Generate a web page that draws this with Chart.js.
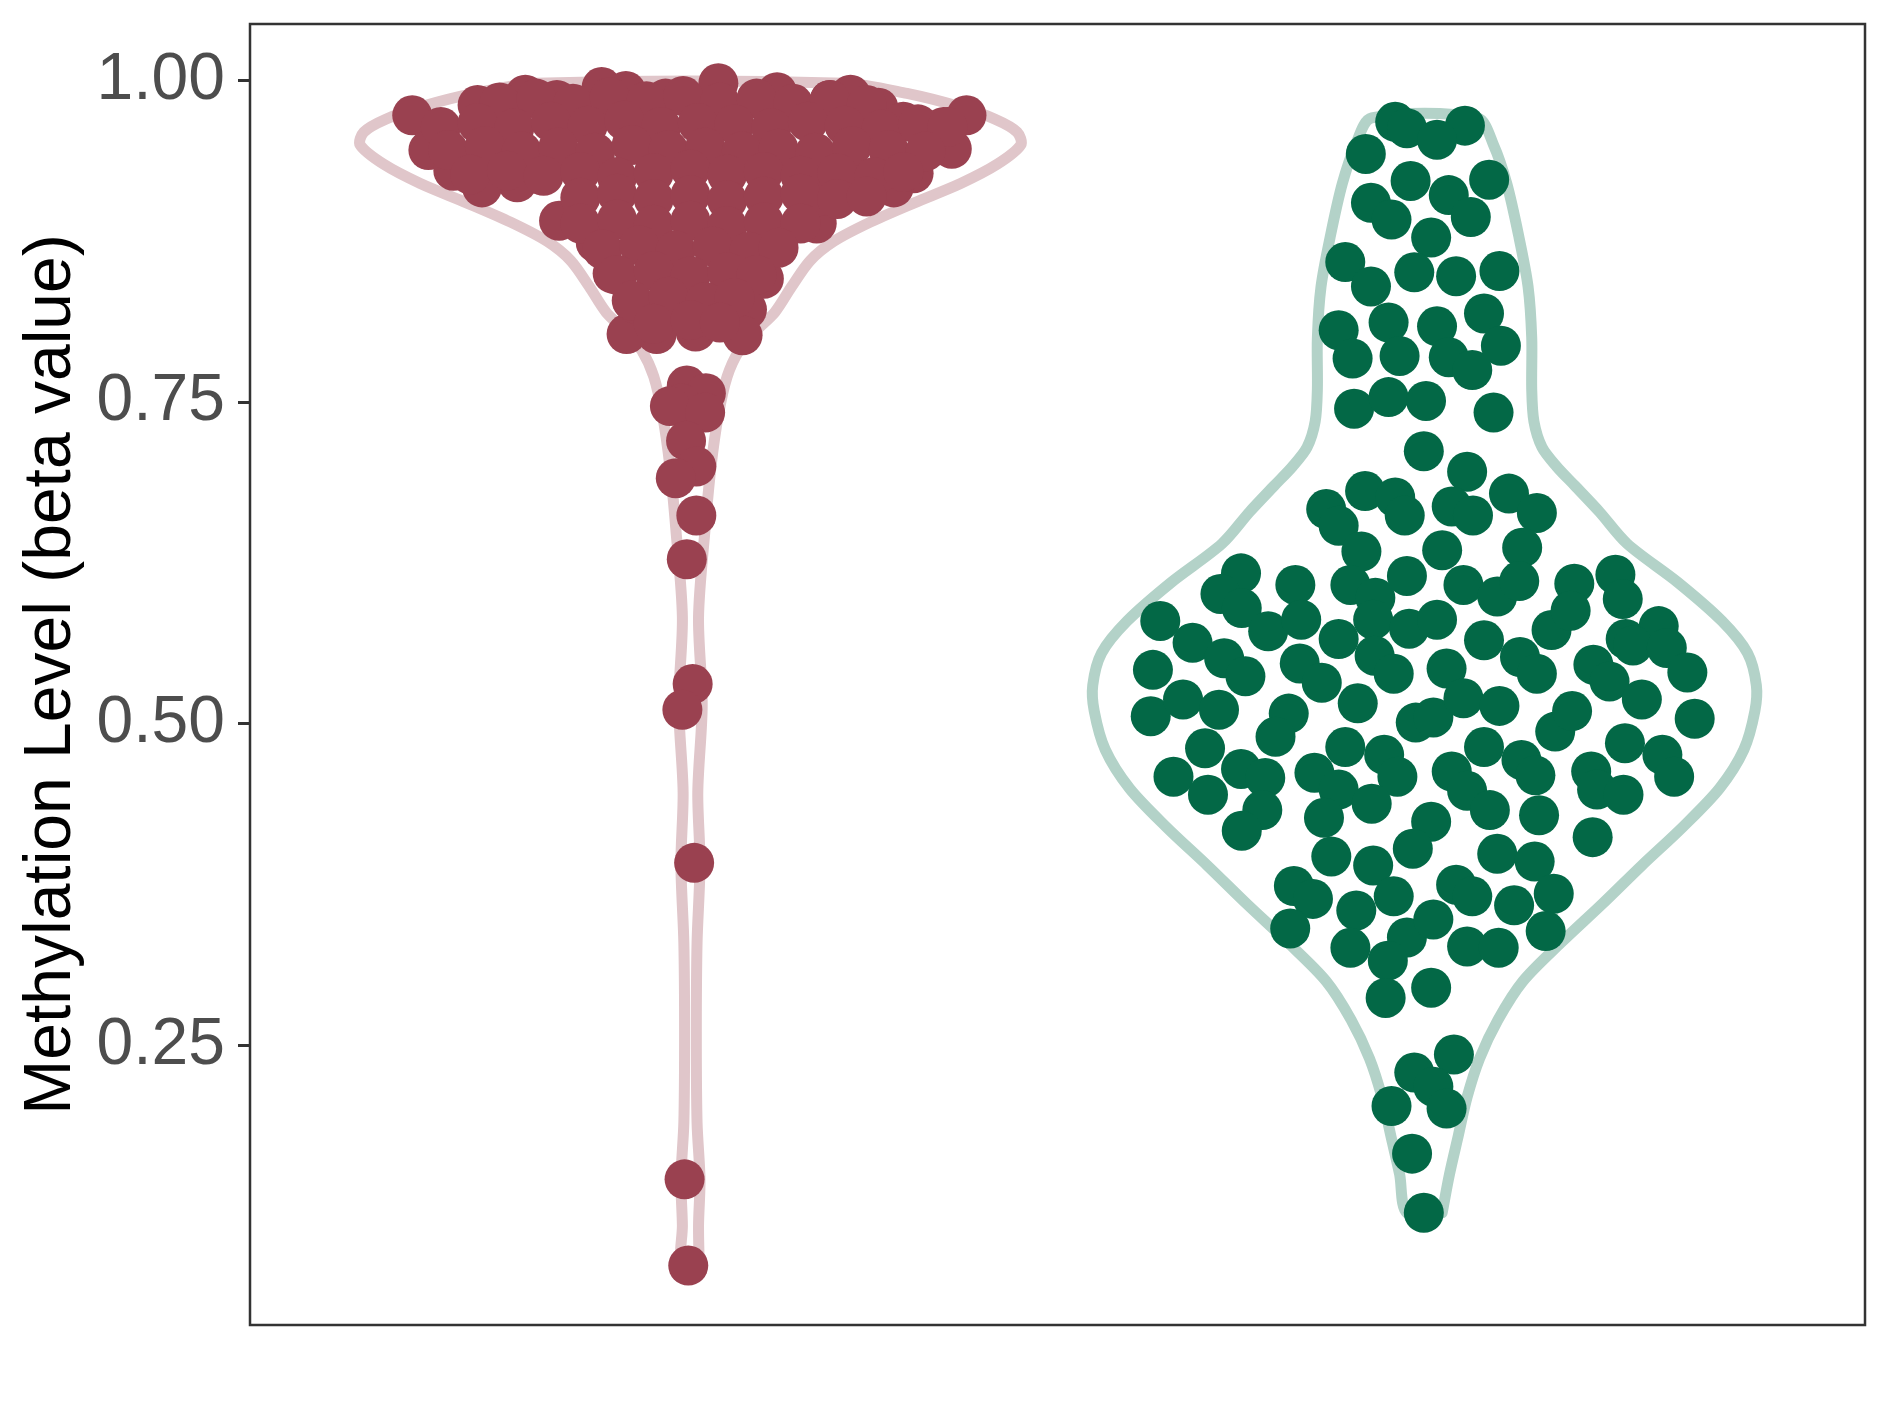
<!DOCTYPE html>
<html>
<head>
<meta charset="utf-8">
<script src="https://cdn.jsdelivr.net/npm/chart.js@4.4.1/dist/chart.umd.min.js"></script>
<style>
  html, body { margin: 0; padding: 0; background: #ffffff; }
  #wrap { width: 1889px; height: 1417px; }
</style>
</head>
<body>
<div id="wrap"><canvas id="violinChart" width="1889" height="1417"></canvas></div>
<script>
// group centres on the x axis (no labels are shown on the reference)
var groupCenters = [1, 2];
var yTicks = [0.25, 0.50, 0.75, 1.00];

// group 1 (red): horizontal jitter from the centre and beta value
var redJitter = [
  // outer edge of the dense cluster
  -0.379, -0.357, -0.290, -0.225, -0.182, -0.121, -0.088, -0.034, 0.038, 0.118,
  0.190, 0.218, 0.256, 0.290, 0.376, 0.345, 0.356, 0.304, 0.277, 0.248,
  0.215, 0.172, 0.172, 0.108, 0.100, 0.077, 0.071, 0.007, -0.046, -0.087,
  -0.077, -0.106, -0.129, -0.179, -0.205, -0.236, -0.284, -0.323,
  // inside the cluster
  -0.26, -0.21, -0.16, -0.11, -0.06, -0.01, 0.04, 0.09, 0.14, 0.19, 0.24,
  -0.34, -0.29, -0.24, -0.19, -0.14, -0.09, -0.04, 0.01, 0.06, 0.11, 0.16, 0.21, 0.26, 0.31, 0.35,
  -0.33, -0.28, -0.23, -0.18, -0.13, -0.08, -0.03, 0.02, 0.07, 0.12, 0.17, 0.22, 0.27, 0.32,
  -0.30, -0.25, -0.20, -0.15, -0.10, -0.05, 0.00, 0.05, 0.10, 0.15, 0.20, 0.25, 0.29,
  -0.15, -0.10, -0.05, 0.00, 0.05, 0.10, 0.15, 0.20, 0.24,
  -0.15, -0.10, -0.05, 0.00, 0.05, 0.10, 0.15,
  -0.12, -0.07, -0.02, 0.03, 0.08, 0.12,
  -0.10, -0.05, 0.00, 0.05, 0.09,
  -0.08, -0.03, 0.02, 0.06,
  -0.05, 0.00, 0.04,
  // tail
  -0.005, 0.021, -0.013, -0.028, 0.020, -0.006, 0.008, -0.020, 0.008, -0.005,
  0.003, -0.011, 0.005, -0.008, -0.003
];
var redBeta = [
  0.973, 0.946, 0.981, 0.989, 0.985, 0.995, 0.992, 0.986, 0.998, 0.991,
  0.985, 0.989, 0.979, 0.968, 0.973, 0.964, 0.947, 0.928, 0.917, 0.924,
  0.927, 0.889, 0.910, 0.876, 0.846, 0.822, 0.802, 0.805, 0.803, 0.803,
  0.827, 0.850, 0.874, 0.891, 0.927, 0.921, 0.917, 0.930,
  0.983, 0.986, 0.982, 0.987, 0.984, 0.988, 0.983, 0.986, 0.982, 0.985, 0.981,
  0.964, 0.967, 0.963, 0.968, 0.965, 0.969, 0.964, 0.967, 0.966, 0.963, 0.968, 0.965, 0.962, 0.966, 0.964,
  0.946, 0.949, 0.945, 0.948, 0.944, 0.950, 0.946, 0.948, 0.945, 0.947, 0.944, 0.949, 0.946, 0.945,
  0.927, 0.930, 0.926, 0.929, 0.925, 0.928, 0.931, 0.927, 0.929, 0.926, 0.928, 0.925, 0.929,
  0.909, 0.912, 0.908, 0.911, 0.907, 0.910, 0.912, 0.908, 0.910,
  0.889, 0.892, 0.888, 0.891, 0.887, 0.890, 0.889,
  0.869, 0.872, 0.868, 0.871, 0.867, 0.870,
  0.849, 0.852, 0.848, 0.851, 0.849,
  0.829, 0.832, 0.828, 0.831,
  0.811, 0.814, 0.812,
  0.763, 0.757, 0.749, 0.747, 0.742, 0.720, 0.700, 0.691, 0.662, 0.628,
  0.531, 0.511, 0.392, 0.146, 0.079
];

// group 2 (green)
var greenJitter = [
  -0.040, -0.024, 0.055, 0.017, -0.080, -0.019, 0.088, -0.073, -0.045, 0.033,
  0.063, 0.009, -0.108, -0.073, -0.014, 0.043, 0.102, -0.117, -0.049, 0.017,
  0.081, -0.098, -0.034, 0.033, 0.065, 0.104, -0.096, -0.049, 0.002, 0.094,
  -0.001, 0.058, -0.134, -0.117, -0.081, -0.040, -0.027, 0.037, 0.066, 0.115,
  0.153, -0.086, 0.024, 0.133, -0.250, -0.278, -0.249, -0.176, -0.101, -0.067,
  -0.024, 0.053, 0.099, 0.129, 0.204, 0.260, 0.270, -0.360, -0.316, -0.213,
  -0.168, -0.117, -0.070, -0.021, 0.017, 0.081, 0.173, 0.199, 0.274, 0.319,
  -0.370, -0.273, -0.244, -0.170, -0.140, -0.068, -0.042, 0.030, 0.130, 0.153,
  0.230, 0.252, 0.284, 0.330, 0.358, -0.373, -0.329, -0.280, -0.185, -0.091,
  -0.012, 0.012, 0.053, 0.102, 0.178, 0.201, 0.296, 0.368, -0.299, -0.203,
  -0.108, -0.055, 0.081, 0.132, 0.273, 0.324, -0.342, -0.250, -0.217, -0.150,
  -0.117, -0.037, 0.037, 0.058, 0.151, 0.227, 0.235, 0.271, 0.340, -0.295,
  -0.221, -0.249, -0.137, -0.072, 0.009, 0.089, 0.156, 0.229, -0.127, -0.070,
  -0.016, 0.099, 0.150, -0.178, -0.152, -0.042, 0.043, 0.065, 0.122, 0.176,
  -0.183, -0.093, -0.024, 0.012, -0.101, -0.050, 0.058, 0.101, 0.165, -0.053,
  0.009, 0.040, -0.014, 0.012, -0.045, 0.030, -0.017, -0.001
];
var greenBeta = [
  0.968, 0.963, 0.965, 0.954, 0.943, 0.922, 0.923, 0.905, 0.892, 0.911,
  0.894, 0.878, 0.859, 0.840, 0.851, 0.848, 0.852, 0.806, 0.812, 0.809,
  0.819, 0.784, 0.786, 0.785, 0.775, 0.794, 0.745, 0.754, 0.751, 0.742,
  0.712, 0.696, 0.667, 0.654, 0.681, 0.676, 0.662, 0.669, 0.662, 0.679,
  0.664, 0.634, 0.635, 0.637, 0.617, 0.601, 0.590, 0.608, 0.608, 0.598,
  0.615, 0.608, 0.599, 0.611, 0.609, 0.616, 0.597, 0.580, 0.563, 0.572,
  0.581, 0.566, 0.581, 0.574, 0.581, 0.565, 0.573, 0.588, 0.566, 0.576,
  0.542, 0.551, 0.537, 0.547, 0.532, 0.553, 0.539, 0.543, 0.552, 0.539,
  0.546, 0.533, 0.561, 0.559, 0.540, 0.506, 0.519, 0.511, 0.508, 0.516,
  0.501, 0.505, 0.520, 0.514, 0.494, 0.510, 0.519, 0.504, 0.481, 0.490,
  0.482, 0.476, 0.482, 0.472, 0.485, 0.476, 0.459, 0.465, 0.458, 0.462,
  0.449, 0.459, 0.463, 0.448, 0.460, 0.463, 0.449, 0.445, 0.459, 0.445,
  0.433, 0.417, 0.427, 0.438, 0.424, 0.433, 0.429, 0.412, 0.397, 0.390,
  0.403, 0.399, 0.393, 0.374, 0.364, 0.366, 0.375, 0.366, 0.359, 0.368,
  0.341, 0.355, 0.334, 0.348, 0.326, 0.316, 0.327, 0.326, 0.339, 0.287,
  0.295, 0.243, 0.229, 0.218, 0.203, 0.201, 0.166, 0.120
];

// violin outlines: beta level and half width (x units) of the density
var redViolinY  = [0.079, 0.110, 0.146, 0.190, 0.260, 0.330, 0.391, 0.447, 0.515, 0.583, 0.652, 0.700, 0.740, 0.770, 0.790, 0.805, 0.820, 0.840, 0.860, 0.875, 0.890, 0.905, 0.920, 0.935, 0.950, 0.960, 0.970, 0.980, 0.990, 0.998];
var redViolinHW = [0.012, 0.011, 0.013, 0.009, 0.008, 0.009, 0.013, 0.010, 0.016, 0.011, 0.020, 0.028, 0.038, 0.050, 0.066, 0.088, 0.115, 0.138, 0.163, 0.195, 0.245, 0.305, 0.368, 0.418, 0.450, 0.445, 0.415, 0.365, 0.295, 0.210];
var greenViolinY  = [0.120, 0.150, 0.180, 0.210, 0.240, 0.270, 0.300, 0.330, 0.360, 0.390, 0.420, 0.450, 0.480, 0.510, 0.530, 0.555, 0.580, 0.610, 0.640, 0.665, 0.685, 0.700, 0.715, 0.735, 0.760, 0.800, 0.840, 0.880, 0.920, 0.950, 0.971];
var greenViolinHW = [0.024, 0.034, 0.046, 0.058, 0.075, 0.100, 0.134, 0.186, 0.242, 0.296, 0.352, 0.402, 0.435, 0.450, 0.452, 0.440, 0.405, 0.345, 0.276, 0.238, 0.205, 0.180, 0.160, 0.149, 0.146, 0.146, 0.141, 0.128, 0.112, 0.094, 0.072];

var FONT = "'Liberation Sans', Arial, Helvetica, sans-serif";

function points(center, jitter, beta) {
  return beta.map(function(v, i) { return { x: center + jitter[i], y: v }; });
}

function violinPath(center, ys, hws) {
  var pts = [];
  for (var i = 0; i < ys.length; i++) pts.push({ x: center + hws[i], y: ys[i] });
  for (var j = ys.length - 1; j >= 0; j--) pts.push({ x: center - hws[j], y: ys[j] });
  pts.push(pts[0]);
  return pts;
}

var panelBorder = {
  id: 'panelBorder',
  afterDraw: function(chart) {
    var a = chart.chartArea, c = chart.ctx;
    c.save();
    c.strokeStyle = '#333333';
    c.lineWidth = 2.5;
    c.strokeRect(a.left, a.top, a.right - a.left, a.bottom - a.top);
    c.restore();
  }
};

var ctx = document.getElementById('violinChart').getContext('2d');
new Chart(ctx, {
  type: 'scatter',
  data: {
    datasets: [
      {
        data: points(groupCenters[0], redJitter, redBeta),
        backgroundColor: '#9a4150',
        borderWidth: 0,
        pointRadius: 20,
        pointHoverRadius: 20,
        order: 1
      },
      {
        data: points(groupCenters[1], greenJitter, greenBeta),
        backgroundColor: '#036846',
        borderWidth: 0,
        pointRadius: 20,
        pointHoverRadius: 20,
        order: 1
      },
      {
        data: violinPath(groupCenters[0], redViolinY, redViolinHW),
        showLine: true,
        fill: false,
        borderColor: '#e0c6ca',
        borderWidth: 11,
        borderJoinStyle: 'round',
        borderCapStyle: 'round',
        tension: 0.3,
        pointRadius: 0,
        pointHoverRadius: 0,
        order: 2
      },
      {
        data: violinPath(groupCenters[1], greenViolinY, greenViolinHW),
        showLine: true,
        fill: false,
        borderColor: '#b3d2c8',
        borderWidth: 11,
        borderJoinStyle: 'round',
        borderCapStyle: 'round',
        tension: 0.3,
        pointRadius: 0,
        pointHoverRadius: 0,
        order: 2
      }
    ]
  },
  options: {
    responsive: false,
    animation: false,
    layout: { padding: { left: 0, top: 24, right: 24, bottom: 92 } },
    plugins: {
      legend: { display: false },
      tooltip: { enabled: false }
    },
    scales: {
      x: {
        type: 'linear',
        min: 0.4,
        max: 2.6,
        display: false
      },
      y: {
        type: 'linear',
        min: 0.0328,
        max: 1.044,
        afterBuildTicks: function(scale) {
          scale.ticks = yTicks.map(function(v) { return { value: v }; });
        },
        afterFit: function(scale) {
          scale.width = 250;
          scale.paddingTop = 0;
          scale.paddingBottom = 0;
        },
        border: { display: false },
        grid: {
          drawOnChartArea: false,
          drawTicks: true,
          tickLength: 12,
          tickColor: '#333333',
          tickWidth: 3
        },
        ticks: {
          callback: function(v) { return Number(v).toFixed(2); },
          font: { family: FONT, size: 66 },
          color: '#4d4d4d',
          padding: 13
        },
        title: {
          display: true,
          text: 'Methylation Level (beta value)',
          font: { family: FONT, size: 66 },
          color: '#000000',
          padding: { top: 12, bottom: 0 }
        }
      }
    }
  },
  plugins: [panelBorder]
});
</script>
</body>
</html>
